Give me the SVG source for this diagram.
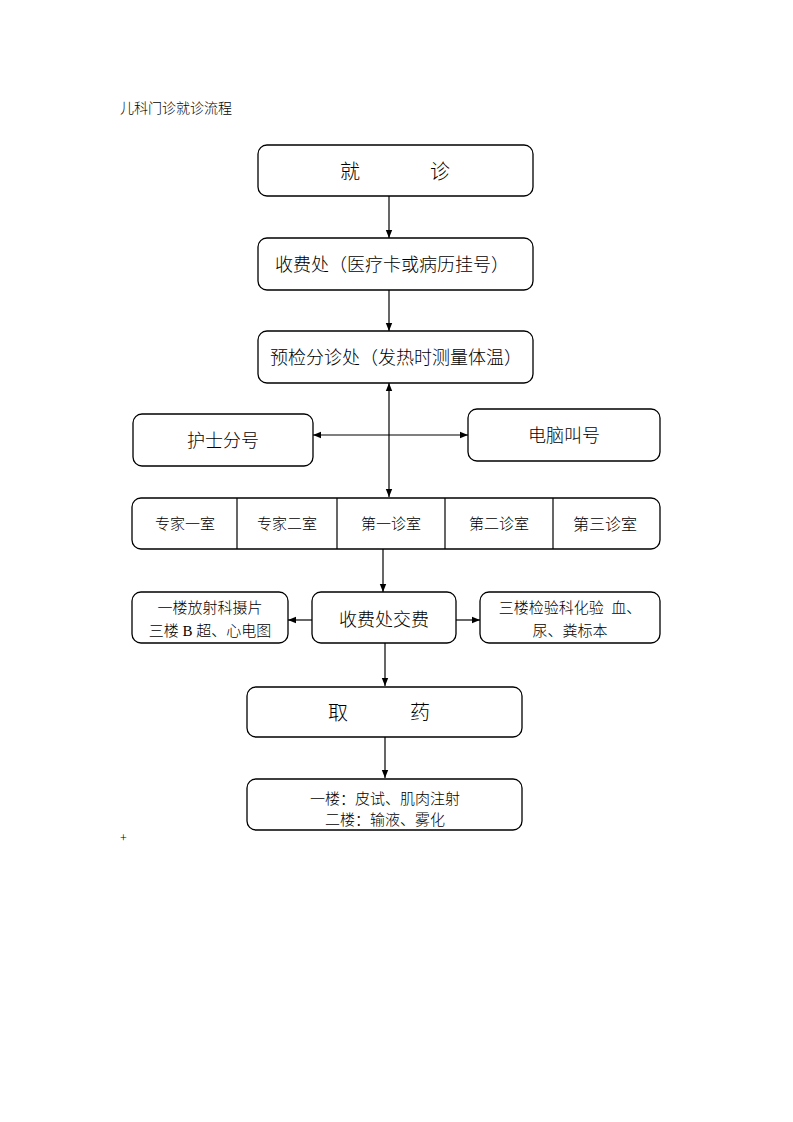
<svg xmlns="http://www.w3.org/2000/svg" width="793" height="1122" viewBox="0 0 793 1122">
<defs>
<style>
.b{fill:#fff;stroke:#000;stroke-width:1.3}
.t{font-family:"Liberation Serif","Noto Sans CJK SC",serif;fill:#000;text-anchor:middle;font-weight:300}
.c{stroke:#000;stroke-width:1.2;fill:none}
</style>
<marker id="ah" viewBox="0 0 10 10" refX="10" refY="5" markerWidth="8" markerHeight="8" orient="auto-start-reverse" markerUnits="userSpaceOnUse">
<path d="M0,1 L10,5 L0,9 z" fill="#000"/>
</marker>
</defs>
<rect width="793" height="1122" fill="#fff"/>
<text x="120" y="113" class="t" style="text-anchor:start;font-size:14px" fill="#222">儿科门诊就诊流程</text>
<g id="n1"><rect class="b" x="258" y="145" width="275" height="51" rx="9"/><text class="t" x="350" y="179" font-size="20">就</text><text class="t" x="440" y="179" font-size="20">诊</text></g>
<g id="n2"><rect class="b" x="258" y="238" width="275" height="52" rx="9"/><text class="t" x="392" y="271" font-size="18">收费处（医疗卡或病历挂号）</text></g>
<g id="n3"><rect class="b" x="258" y="331" width="275" height="52" rx="9"/><text class="t" x="396" y="364" font-size="18">预检分诊处（发热时测量体温）</text></g>
<g id="n4"><rect class="b" x="133" y="414" width="180" height="52" rx="9"/><text class="t" x="223" y="447" font-size="18">护士分号</text></g>
<g id="n5"><rect class="b" x="468" y="409" width="192" height="52" rx="9"/><text class="t" x="564" y="442" font-size="18">电脑叫号</text></g>
<g id="n6"><rect class="b" x="132" y="498" width="528" height="51" rx="9"/>
<line class="c" x1="237" y1="498" x2="237" y2="549"/><line class="c" x1="337" y1="498" x2="337" y2="549"/><line class="c" x1="445" y1="498" x2="445" y2="549"/><line class="c" x1="553" y1="498" x2="553" y2="549"/>
<text class="t" x="185" y="529" font-size="15">专家一室</text><text class="t" x="287" y="529" font-size="15">专家二室</text><text class="t" x="391" y="529" font-size="15">第一诊室</text><text class="t" x="499" y="529" font-size="15">第二诊室</text><text class="t" x="605" y="530" font-size="16">第三诊室</text></g>
<g id="n7"><rect class="b" x="132" y="592" width="156" height="51" rx="9"/><text class="t" x="210" y="613" font-size="15">一楼放射科摄片</text><text class="t" x="210" y="636" font-size="15">三楼 B 超、心电图</text></g>
<g id="n8"><rect class="b" x="312" y="592" width="144" height="51" rx="9"/><text class="t" x="384" y="626" font-size="18">收费处交费</text></g>
<g id="n9"><rect class="b" x="480" y="592" width="180" height="51" rx="9"/><text class="t" x="570" y="613" font-size="15" xml:space="preserve">三楼检验科化验  血、</text><text class="t" x="570" y="636" font-size="15">尿、粪标本</text></g>
<g id="n10"><rect class="b" x="247" y="687" width="275" height="50" rx="9"/><text class="t" x="338" y="720" font-size="20">取</text><text class="t" x="420" y="720" font-size="20">药</text></g>
<g id="n11"><rect class="b" x="247" y="779" width="275" height="51" rx="9"/><text class="t" x="385" y="804" font-size="15">一楼：皮试、肌肉注射</text><text class="t" x="385" y="825" font-size="15">二楼：输液、雾化</text></g>
<g id="connectors">
<line class="c" x1="389" y1="196" x2="389" y2="238" marker-end="url(#ah)"/>
<line class="c" x1="389" y1="290" x2="389" y2="331" marker-end="url(#ah)"/>
<line class="c" x1="389" y1="383" x2="389" y2="497" marker-start="url(#ah)" marker-end="url(#ah)"/>
<line class="c" x1="313" y1="435" x2="468" y2="435" marker-start="url(#ah)" marker-end="url(#ah)"/>
<line class="c" x1="383" y1="549" x2="383" y2="592" marker-end="url(#ah)"/>
<line class="c" x1="312" y1="620" x2="288" y2="620" marker-end="url(#ah)"/>
<line class="c" x1="456" y1="620" x2="480" y2="620" marker-end="url(#ah)"/>
<line class="c" x1="385" y1="643" x2="385" y2="686" marker-end="url(#ah)"/>
<line class="c" x1="385" y1="737" x2="385" y2="778" marker-end="url(#ah)"/>
</g>
<text x="120" y="842" class="t" style="text-anchor:start;font-size:12px" fill="#444">+</text>
</svg>
